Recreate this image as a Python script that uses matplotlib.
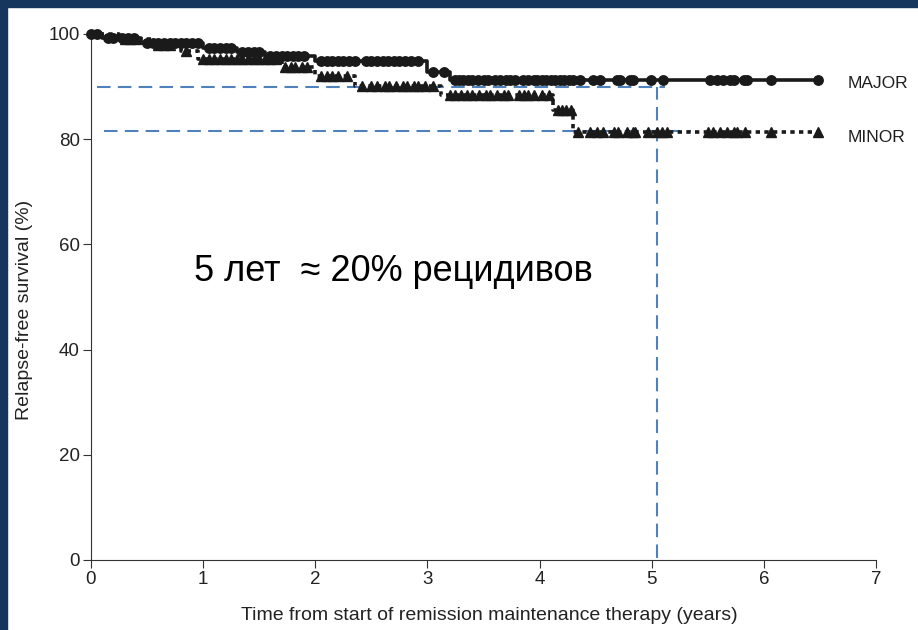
import numpy as np
import matplotlib
matplotlib.use("Agg")
import matplotlib.pyplot as plt
from matplotlib.patches import Rectangle

plt.rcParams['font.family'] = ['Liberation Sans', 'DejaVu Sans']

# Kaplan-Meier steps: time of each relapse (years) and survival after it (%)
major_event_t = [0.10, 0.45, 1.00, 1.30, 1.55, 2.00, 3.00, 3.20]
major_event_s = [99.3, 98.2, 97.4, 96.6, 95.9, 94.8, 92.8, 91.2]
minor_event_t = [0.25, 0.55, 0.80, 0.95, 1.70, 2.00, 2.35, 3.12, 4.12, 4.30]
minor_event_s = [99.0, 98.0, 96.8, 95.3, 93.7, 92.0, 90.1, 88.4, 85.5, 81.4]

# Censored observations (years)
major_censor = [0.00, 0.05, 0.15, 0.20, 0.28, 0.33, 0.38, 0.50, 0.55, 0.60, 0.65,
                0.70, 0.75, 0.80, 0.85, 0.90, 0.95, 1.05, 1.10, 1.15, 1.20, 1.25,
                1.35, 1.40, 1.45, 1.50, 1.60, 1.65, 1.70, 1.75, 1.80, 1.85, 1.90,
                2.05, 2.10, 2.15, 2.20, 2.25, 2.30, 2.35, 2.45, 2.50, 2.55, 2.60,
                2.65, 2.70, 2.75, 2.80, 2.85, 2.92, 3.05, 3.15, 3.25, 3.28, 3.32,
                3.36, 3.40, 3.45, 3.50, 3.54, 3.60, 3.65, 3.70, 3.74, 3.78, 3.85,
                3.90, 3.95, 3.98, 4.02, 4.06, 4.10, 4.14, 4.18, 4.22, 4.26, 4.30,
                4.36, 4.48, 4.54, 4.69, 4.72, 4.81, 4.83, 4.99, 5.10, 5.52, 5.58,
                5.64, 5.70, 5.73, 5.82, 5.85, 6.06, 6.48]
minor_censor = [0.30, 0.35, 0.40, 0.60, 0.65, 0.70, 0.85, 1.00, 1.05, 1.10, 1.15,
                1.20, 1.25, 1.30, 1.35, 1.40, 1.45, 1.50, 1.55, 1.60, 1.65, 1.73,
                1.78, 1.82, 1.88, 1.93, 2.05, 2.10, 2.15, 2.20, 2.28, 2.42, 2.50,
                2.55, 2.62, 2.66, 2.72, 2.78, 2.82, 2.88, 2.92, 2.98, 3.05, 3.20,
                3.25, 3.30, 3.35, 3.40, 3.46, 3.52, 3.56, 3.62, 3.68, 3.72, 3.82,
                3.86, 3.90, 3.95, 4.02, 4.08, 4.16, 4.20, 4.24, 4.28, 4.34, 4.45,
                4.51, 4.57, 4.66, 4.70, 4.78, 4.83, 4.85, 4.97, 5.05, 5.09, 5.14,
                5.50, 5.55, 5.61, 5.67, 5.73, 5.76, 5.83, 6.06, 6.48]

# Reference lines: survival levels at the five-year mark
ref_major = 90
ref_minor = 81.5
ref_time = 5.05

x_ticks = [0, 1, 2, 3, 4, 5, 6, 7]
y_ticks = [0, 20, 40, 60, 80, 100]
group_labels = ["MAJOR", "MINOR"]
note_text = "5 лет  \u2248 20% рецидивов"

fig = plt.figure(figsize=(9.18, 6.30), dpi=100)
fig.patch.set_facecolor("white")
navy = "#17365d"
fig.add_artist(Rectangle((0, 1 - 7 / 630), 1, 7 / 630, transform=fig.transFigure,
                         color=navy, zorder=0))
fig.add_artist(Rectangle((0, 0), 7 / 918, 1, transform=fig.transFigure,
                         color=navy, zorder=0))

ax = fig.add_axes([91 / 918, 70 / 630, 785 / 918, 526 / 630])


def km_curve(ev_t, ev_s, t_end):
    t = np.concatenate([[0.0], ev_t, [t_end]])
    s = np.concatenate([[100.0], ev_s, [ev_s[-1]]])
    return t, s


def surv_at(ev_t, ev_s, times):
    t = np.concatenate([[0.0], ev_t])
    s = np.concatenate([[100.0], ev_s])
    idx = np.searchsorted(t, times, side="right") - 1
    return s[idx]


blue = "#4f81bd"
dash = (0, (6.5, 3.5))
ax.plot([0.05, 5.12], [ref_major, ref_major], color=blue, lw=1.5, ls=dash, zorder=1)
ax.plot([0.12, 5.35], [ref_minor, ref_minor], color=blue, lw=1.5, ls=dash, zorder=1)
ax.plot([ref_time, ref_time], [0.4, ref_major], color=blue, lw=1.5, ls=dash, zorder=1)

end_t = 6.48
mt, ms = km_curve(major_event_t, major_event_s, end_t)
ax.step(mt, ms, where="post", color="#1a1a1a", lw=2.6, zorder=3, clip_on=False)
ax.plot(major_censor, surv_at(major_event_t, major_event_s, major_censor), "o",
        color="#1a1a1a", ms=6.8, zorder=4, clip_on=False)

nt, ns = km_curve(minor_event_t, minor_event_s, end_t)
ax.step(nt, ns, where="post", color="#1a1a1a", lw=2.6, ls=(0, (1.2, 1.2)),
        zorder=3, clip_on=False)
ax.plot(minor_censor, surv_at(minor_event_t, minor_event_s, minor_censor), "^",
        color="#1a1a1a", ms=7.3, zorder=4, clip_on=False)

ax.text(6.75, 90.6, group_labels[0], fontsize=12.5, va="center",
        ha="left", color="#1e1e1e")
ax.text(6.75, 80.3, group_labels[1], fontsize=12.5, va="center",
        ha="left", color="#1e1e1e")

ax.text(0.92, 54.8, note_text, fontsize=26, va="center", ha="left", color="black")

ax.set_xlim(0, 7)
ax.set_ylim(0, 100)
ax.set_xticks(x_ticks)
ax.set_yticks(y_ticks)
ax.tick_params(axis="both", labelsize=13.5, length=6, width=0.8, color="#333333",
               labelcolor="#222222", pad=2)
for side in ("top", "right"):
    ax.spines[side].set_visible(False)
for side in ("left", "bottom"):
    ax.spines[side].set_linewidth(0.8)
    ax.spines[side].set_color("#333333")

ax.set_xlabel("Time from start of remission maintenance therapy (years)",
              fontsize=14, color="#222222")
ax.set_ylabel("Relapse-free survival (%)", fontsize=14, color="#222222")
ax.xaxis.set_label_coords(0.508, -0.089)
ax.yaxis.set_label_coords(-0.074, 0.475)

fig.savefig("out.png", dpi=100)
